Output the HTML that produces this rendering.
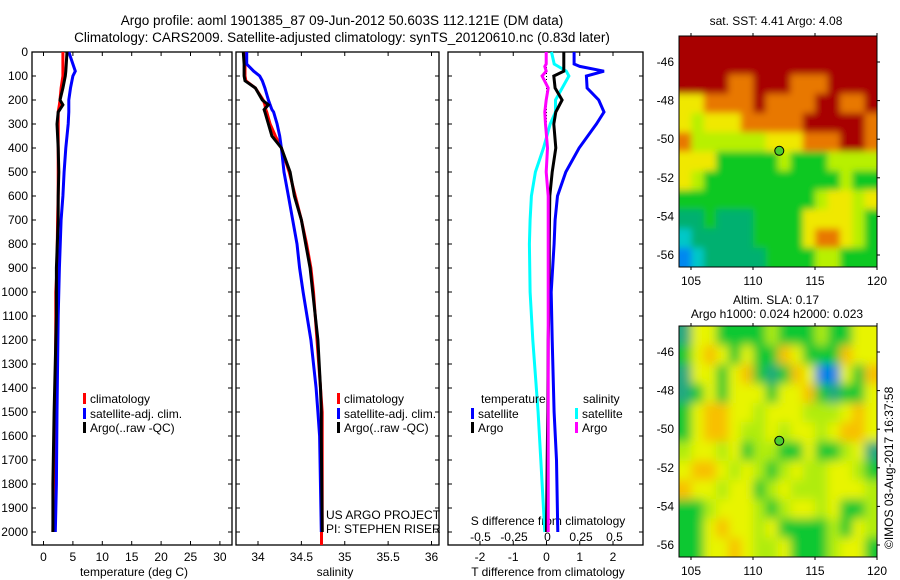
<!DOCTYPE html>
<html><head><meta charset="utf-8"><style>
body{margin:0;background:#fff;}
svg{display:block;font-family:"Liberation Sans",sans-serif;}
</style></head><body>
<svg id="c" width="900" height="580" xmlns="http://www.w3.org/2000/svg">
<defs>
<filter id="bl1" x="-5%" y="-5%" width="110%" height="110%"><feGaussianBlur stdDeviation="3.5"/></filter>
<filter id="bl2" x="-5%" y="-5%" width="110%" height="110%"><feGaussianBlur stdDeviation="5"/></filter>
<clipPath id="cp1"><rect x="679" y="36" width="198" height="231"/></clipPath>
<clipPath id="cp2"><rect x="679" y="326" width="198" height="231"/></clipPath>
</defs>
<text x="342" y="25" font-size="13.5" text-anchor="middle">Argo profile: aoml 1901385_87 09-Jun-2012 50.603S 112.121E (DM data)</text>
<text x="342" y="42" font-size="13.5" text-anchor="middle">Climatology: CARS2009. Satellite-adjusted climatology: synTS_20120610.nc (0.83d later)</text>
<g id="g"></g>
</svg>
<script>
// ---- data ----
const tDepth=[0,80,100,150,200,220,250,300,400,500,600,700,900,1000,1100,1500,1800,2000];
const tClim=[3.3,3.3,3.3,3.0,2.8,2.7,2.5,2.5,2.5,2.5,2.5,2.4,2.3,2.1,2.1,2.0,1.7,1.6];
const tSat=[4.3,5.4,5.0,4.6,4.3,4.3,4.3,4.2,3.8,3.5,3.3,3.0,2.7,2.6,2.5,2.3,2.2,2.0];
const tArgo=[4.0,3.8,3.7,3.3,2.8,3.3,2.5,2.3,2.5,2.6,2.5,2.5,2.2,2.2,2.2,1.8,1.6,1.6];
const sDepth=[0,50,80,100,120,150,200,220,240,250,300,350,400,500,600,700,800,900,1000,1200,1400,1500,1600,2000];
const sClim=[33.85,33.85,33.85,33.85,33.86,33.97,34.06,34.08,34.09,34.10,34.14,34.20,34.27,34.36,34.43,34.50,34.56,34.61,34.64,34.68,34.72,34.74,34.74,34.74];
const sSat=[33.87,33.87,33.95,34.02,34.05,34.08,34.12,34.14,34.16,34.18,34.22,34.25,34.27,34.30,34.35,34.40,34.45,34.48,34.52,34.61,34.67,34.69,34.71,34.73];
const sArgo=[33.83,33.84,33.84,33.84,33.85,33.97,34.05,34.12,34.07,34.08,34.12,34.16,34.27,34.37,34.42,34.50,34.55,34.60,34.63,34.69,34.72,34.73,34.73,34.74];
const dDepth=[0,50,60,80,100,150,200,250,300,400,500,600,700,800,1000,1200,1500,1700,2000];
const dTSat=[0.83,0.83,1.0,1.73,1.2,1.22,1.57,1.73,1.5,0.98,0.58,0.33,0.26,0.23,0.14,0.17,0.23,0.3,0.34];
const dTArgo=[0.52,0.52,0.52,0.52,0.22,0.26,0.47,0.28,0.22,0.28,0.17,0.1,0.09,0.08,0.08,0.05,0.04,0.02,0.0];
const dSSat=[0.03,0.05,0.08,0.14,0.16,0.11,0.06,0.06,0.02,-0.03,-0.09,-0.12,-0.13,-0.135,-0.13,-0.11,-0.07,-0.05,-0.02];
const dSArgo=[-0.01,-0.01,-0.02,-0.01,-0.04,0.005,-0.01,-0.02,-0.015,0.0,-0.01,0.005,0.005,0.005,0.005,0.005,0.005,0.005,0.005];
const depthTicks=[0,100,200,300,400,500,600,700,800,900,1000,1100,1200,1300,1400,1500,1600,1700,1800,1900,2000];
const tTicks=[0,5,10,15,20,25,30];
const sTicks=[34,34.5,35,35.5,36];
const dtTicks=[-2,-1,0,1,2];
const dsTicks=[-0.5,-0.25,0,0.25,0.5];
const sstRows=["RRRRRRRRRRRRRRRR","RRRRRRRRRRRRRRRR","RRRROORRROOORRRR","YYOOOOROOOORROOR","YLYYYOOOOORRRRRO","OLLLLLLYYYOOORRO","YYYGGGGGLGGGLLLL","YLGGGGGGGGGGGLGG","GGGGGGGGGGGLYYLY","TTGTTTGGGGYYYYLG","CTTTTTGGGGYOOYLG","BCTTTTTGGGGLLGGG"];
const slaRows=["TYYGGGGLGGGLGGYY","GYOYGYGGOYGGGOYY","TYYGYOGTGOYBBYGO","TGYGYYYGYYOGTGGY","GYOOYYLYYYLLLYOY","GYOOYLLYLYYLYOOY","LYYLYGLLGGYGGLYT","YOOYLYLGLYLLYYLG","OYYLYYGLYLLLYYYL","GGLYYYLGLYYLYGGL","GGYOYYLYGGGGLGYL","GGYYOYLLYGGGLYYG"];
const lonTicks=[105,110,115,120];
const latTicks=[-46,-48,-50,-52,-54,-56];

const NS="http://www.w3.org/2000/svg";
const G=document.getElementById('g');
function el(t,a,p){const e=document.createElementNS(NS,t);for(const k in a)e.setAttribute(k,a[k]);(p||G).appendChild(e);return e;}
function txt(x,y,s,anchor,size,p){const e=el('text',{x:x,y:y,'font-size':size||12,'text-anchor':anchor||'start'},p);e.textContent=s;return e;}
const Y=d=>52+d*0.24;
const TOP=52,BOT=545;
const xT=v=>43.5+v*5.88, xS=v=>258+(v-34)*86.75, xDT=v=>546.5+v*33.25, xDS=v=>547.5+v*134;

function panel(x0,x1,name){
  const r=el('rect',{x:x0,y:TOP,width:x1-x0,height:BOT-TOP,fill:'none',stroke:'#000','stroke-width':1.3});
  
  
  depthTicks.forEach(d=>{el('line',{x1:x0,x2:x0+4,y1:Y(d),y2:Y(d),stroke:'#000'});el('line',{x1:x1,x2:x1-4,y1:Y(d),y2:Y(d),stroke:'#000'});});
}
function series(xs,vals,depths,fn,color,name,w){
  const pts=vals.map((v,i)=>fn(v).toFixed(1)+','+Y(depths[i]).toFixed(1)).join(' ');
  const p=el('polyline',{points:pts,fill:'none',stroke:color,'stroke-width':w||3,'stroke-linejoin':'miter'});
  
  
}
depthTicks.forEach(d=>{const t=txt(28,Y(d)+4,String(d),'end',12);});

// panel 1
panel(32,232,'temperature-panel');
tTicks.forEach(v=>{el('line',{x1:xT(v),x2:xT(v),y1:BOT,y2:BOT-4,stroke:'#000'});el('line',{x1:xT(v),x2:xT(v),y1:TOP,y2:TOP+4,stroke:'#000'});txt(xT(v),561,String(v),'middle',12);});
txt(134,576,'temperature (deg C)','middle',12);
series(0,tClim,tDepth,xT,'#f00','temp-climatology-line');
series(0,tSat,tDepth,xT,'#00f','temp-satellite-line');
series(0,tArgo,tDepth,xT,'#000','temp-argo-line');
function legend(x,y,color,label,name){const r=el('rect',{x:x,y:y-10,width:3,height:11,fill:color});txt(x+7,y,label,'start',12);}
legend(83,403,'#f00','climatology','legend-climatology');
legend(83,418,'#00f','satellite-adj. clim.','legend-satellite');
legend(83,432,'#000','Argo(..raw -QC)','legend-argo');

// panel 2
panel(236,439,'salinity-panel');
sTicks.forEach(v=>{el('line',{x1:xS(v),x2:xS(v),y1:BOT,y2:BOT-4,stroke:'#000'});el('line',{x1:xS(v),x2:xS(v),y1:TOP,y2:TOP+4,stroke:'#000'});txt(xS(v),561,String(v),'middle',12);});
txt(335,576,'salinity','middle',12);
series(0,sClim,sDepth,xS,'#f00','sal-climatology-line');
series(0,sSat,sDepth,xS,'#00f','sal-satellite-line');
series(0,sArgo,sDepth,xS,'#000','sal-argo-line');
el('rect',{x:320,y:Y(2000),width:3,height:BOT-Y(2000),fill:'#f00'});
legend(337,403,'#f00','climatology','legend2-climatology');
legend(337,418,'#00f','satellite-adj. clim.','legend2-satellite');
legend(337,432,'#000','Argo(..raw -QC)','legend2-argo');
txt(326,519,'US ARGO PROJECT','start',12);
txt(326,533,'PI: STEPHEN RISER','start',12);

// panel 3
panel(448,643,'difference-panel');
dtTicks.forEach(v=>{el('line',{x1:xDT(v),x2:xDT(v),y1:BOT,y2:BOT-4,stroke:'#000'});el('line',{x1:xDT(v),x2:xDT(v),y1:TOP,y2:TOP+4,stroke:'#000'});txt(xDT(v),561,String(v),'middle',12);});
dsTicks.forEach(v=>{txt(xDS(v),541,String(v),'middle',12);});
txt(548,525,'S difference from climatology','middle',12);
txt(548,576,'T difference from climatology','middle',12);
el('line',{x1:xDT(0),x2:xDT(0),y1:TOP,y2:Y(400),stroke:'#000','stroke-dasharray':'1,2'});
series(0,dSSat,dDepth,xDS,'#0ff','s-diff-satellite-line');
series(0,dTArgo,dDepth,xDT,'#000','t-diff-argo-line');
series(0,dSArgo,dDepth,xDS,'#f0f','s-diff-argo-line');
series(0,dTSat,dDepth,xDT,'#00f','t-diff-satellite-line');
txt(481,403,'temperature','start',12);
txt(583,403,'salinity','start',12);
legend(471,418,'#00f','satellite','legend3-t-satellite');
legend(471,432,'#000','Argo','legend3-t-argo');
legend(575,418,'#0ff','satellite','legend3-s-satellite');
legend(575,432,'#f0f','Argo','legend3-s-argo');

// maps
const COL={R:'#a80000',O:'#e87800',Y:'#f0e800',L:'#b8f000',G:'#10c820',T:'#00b070',C:'#00c8c8',B:'#0088f0'};
const COL2={R:'#a80000',O:'#f8c000',Y:'#e8f400',L:'#b0ec10',G:'#10c830',T:'#20a880',C:'#00c8c8',B:'#0080e8'};
const MX0=679,MX1=877,lonX=v=>691+(v-105)*12.4;
function map(y0,rows,cols,name,filt,clip){
  const h=231;
  const outer=el('g',{'clip-path':'url(#'+clip+')'});
  const g=el('g',{filter:'url(#'+filt+')'},outer);
  
  
  const nr=rows.length,nc=rows[0].length,cw=(MX1-MX0)/nc,ch=h/nr;
  rows.forEach((r,i)=>{for(let j=0;j<nc;j++){
    const x=MX0+j*cw-(j==0?10:0), w=cw+0.5+(j==0?10:0)+(j==nc-1?10:0);
    const y=y0+i*ch-(i==0?10:0), hh=ch+0.5+(i==0?10:0)+(i==nr-1?10:0);
    el('rect',{x:x,y:y,width:w,height:hh,fill:cols[r[j]]},g);}});
  el('rect',{x:MX0,y:y0,width:MX1-MX0,height:h,fill:'none',stroke:'#000'});
  const latY=v=>y0+26+(-46-v)*19.3;
  lonTicks.forEach(v=>{el('line',{x1:lonX(v),x2:lonX(v),y1:y0-3,y2:y0,stroke:'#000'});el('line',{x1:lonX(v),x2:lonX(v),y1:y0+h,y2:y0+h+3,stroke:'#000'});txt(lonX(v),y0+h+18,String(v),'middle',12);});
  latTicks.forEach(v=>{el('line',{x1:MX1,x2:MX1+3,y1:latY(v),y2:latY(v),stroke:'#000'});txt(674,latY(v)+4,String(v),'end',12);});
  const dot=el('circle',{cx:lonX(112.12),cy:latY(-50.6),r:4.5,fill:'#4ccc30',stroke:'#000'});
  
  
}
map(36,sstRows,COL,'sst-map','bl1','cp1');
map(326,slaRows,COL2,'sla-map','bl2','cp2');
txt(776,25,'sat. SST: 4.41 Argo: 4.08','middle',12);
txt(776,304,'Altim. SLA: 0.17','middle',12);
txt(777,318,'Argo h1000: 0.024 h2000: 0.023','middle',12);
const cr=txt(0,0,'©IMOS 03-Aug-2017 16:37:58','start',12);
cr.setAttribute('transform','translate(893,549) rotate(-90)');


</script>
</body></html>
